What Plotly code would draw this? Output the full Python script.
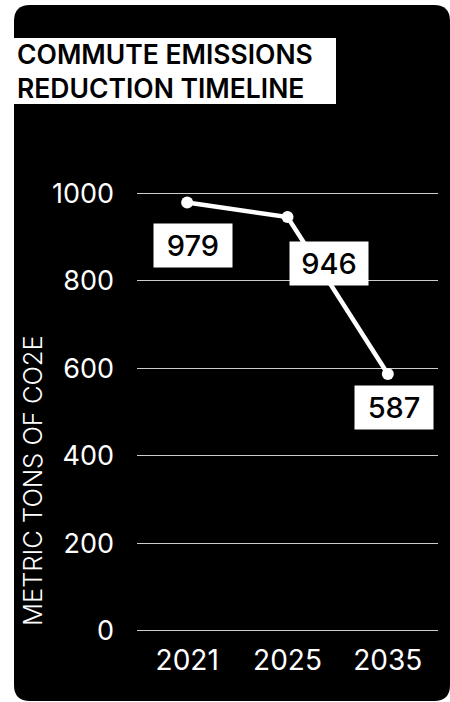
import plotly.graph_objects as go

# Commute emissions by milestone year (metric tons CO2e)
years = ["2021", "2025", "2035"]
emissions = [979, 946, 587]
y_ticks = [0, 200, 400, 600, 800, 1000]
title_lines = ["COMMUTE EMISSIONS", "REDUCTION TIMELINE"]

W, H = 450, 702
M_L, M_R, M_T, M_B = 137, 12, 189, 67
PW, PH = W - M_L - M_R, H - M_T - M_B


def px_x(x):
    return (x - M_L) / PW


def px_y(y):
    return (H - M_B - y) / PH


def rounded_rect(x0, y0, x1, y1, r):
    # rounded rectangle path in paper coordinates, from pixel inputs
    X, Y = px_x, px_y
    rx, ry = r / PW, r / PH
    return (f"M {X(x0)+rx},{Y(y0)} L {X(x1)-rx},{Y(y0)} "
            f"Q {X(x1)},{Y(y0)} {X(x1)},{Y(y0)-ry} "
            f"L {X(x1)},{Y(y1)+ry} Q {X(x1)},{Y(y1)} {X(x1)-rx},{Y(y1)} "
            f"L {X(x0)+rx},{Y(y1)} Q {X(x0)},{Y(y1)} {X(x0)},{Y(y1)+ry} "
            f"L {X(x0)},{Y(y0)-ry} Q {X(x0)},{Y(y0)} {X(x0)+rx},{Y(y0)} Z")


fig = go.Figure()
fig.add_trace(go.Scatter(
    x=years, y=emissions, mode="lines+markers",
    line=dict(color="white", width=4.5),
    marker=dict(color="white", size=12),
    hoverinfo="skip", showlegend=False,
))

# value labels in white boxes (offsets in pixels from each point)
label_shift = [(6, -43), (41, -47), (6, -34)]
for i, (v, (dx, dy)) in enumerate(zip(emissions, label_shift)):
    fig.add_annotation(
        x=i, y=v, xref="x", yref="y", text=str(v), showarrow=False,
        xshift=dx, yshift=dy,
        font=dict(family="Inter", size=29, color="black", weight=500),
        bgcolor="white", width=72, height=37, borderpad=3,
    )

shapes = [
    dict(type="path", xref="paper", yref="paper", layer="below",
         path=rounded_rect(14, 5, 450, 701, 16),
         fillcolor="black", line=dict(width=0)),
    dict(type="rect", xref="paper", yref="paper", layer="below",
         x0=px_x(14), x1=px_x(336), y0=px_y(104), y1=px_y(38),
         fillcolor="white", line=dict(width=0)),
]

# two-line title in a white box
fig.add_annotation(
    x=px_x(15), y=px_y(71), xref="paper", yref="paper",
    xanchor="left", yanchor="middle", align="left", showarrow=False,
    text="<br>".join(title_lines),
    font=dict(family="Inter", size=26.5, color="black", weight=600),
)

fig.add_annotation(
    x=px_x(32), y=px_y(481), xref="paper", yref="paper",
    xanchor="center", yanchor="middle", showarrow=False, textangle=-90,
    text="METRIC TONS OF CO2E",
    font=dict(family="Inter", size=25.5, color="white", weight=300),
)

fig.update_layout(
    width=W, height=H,
    margin=dict(l=M_L, r=M_R, t=M_T, b=M_B),
    paper_bgcolor="white", plot_bgcolor="rgba(0,0,0,0)",
    shapes=shapes,
    xaxis=dict(
        type="category", range=[-0.5, 2.5], showgrid=False, zeroline=False,
        showline=False, ticks="", ticklabelstandoff=6,
        tickfont=dict(family="Inter", size=28, color="white"),
    ),
    yaxis=dict(
        range=[-10, 1010], tickvals=y_ticks, showgrid=True,
        gridcolor="#cccccc", gridwidth=1, zeroline=False, showline=False,
        ticks="", ticklabelstandoff=22,
        tickfont=dict(family="Inter", size=27, color="white"),
    ),
)

fig.write_html("out.html")
